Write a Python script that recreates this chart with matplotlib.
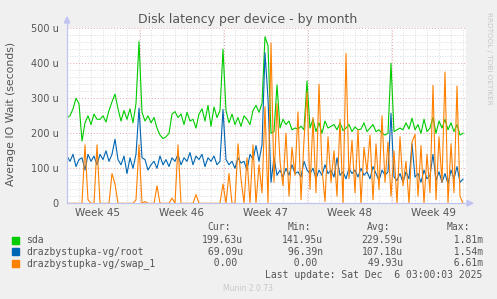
import numpy as np
import matplotlib.pyplot as plt
import matplotlib.transforms as mtransforms

# ---- data (values in microseconds, one sample every 6 hours) ----
sda = [245, 250, 270, 300, 285, 178, 230, 250, 225, 255, 240, 240, 250, 232, 265, 290,
       312, 270, 235, 265, 240, 270, 230, 285, 462, 260, 235, 250, 230, 245, 215, 195,
       185, 190, 200, 255, 262, 245, 255, 225, 260, 235, 240, 215, 255, 270, 235, 280,
       220, 275, 245, 265, 440, 265, 230, 255, 225, 245, 220, 250, 240, 225, 265, 280,
       260, 285, 476, 450, 200, 205, 338, 215, 240, 225, 235, 210, 215, 212, 220, 210,
       349, 215, 240, 205, 230, 200, 235, 215, 220, 225, 210, 230, 208, 215, 225, 205,
       218, 210, 212, 230, 205, 215, 225, 205, 210, 200, 195, 200, 400, 205, 210, 215,
       210, 230, 212, 243, 210, 225, 200, 240, 205, 215, 245, 200, 235, 215, 240, 210,
       230, 205, 225, 195, 200]
root = [135, 120, 140, 105, 125, 130, 95, 140, 120, 135, 110, 140, 125, 150, 120, 140,
        183, 125, 110, 135, 85, 130, 100, 140, 272, 130, 125, 95, 110, 120, 100, 135,
        110, 125, 105, 130, 120, 140, 110, 130, 120, 145, 110, 135, 125, 140, 105, 130,
        120, 135, 110, 120, 268, 125, 110, 120, 100, 130, 115, 120, 95, 140, 125, 165,
        120, 167, 430, 300, 60, 130, 80, 95, 75, 100, 80, 110, 85, 90, 75, 120,
        95, 85, 100, 70, 95, 80, 110, 85, 95, 75, 130, 80, 90, 70, 100, 85,
        95, 75, 100, 80, 90, 70, 105, 85, 65, 95, 80, 90, 257, 75, 65, 85,
        60, 90, 70, 170, 75, 85, 60, 95, 70, 80, 140, 65, 90, 60, 85, 55,
        95, 70, 105, 60, 69]
swap = [0, 0, 0, 0, 0, 0, 167, 10, 0, 0, 167, 0, 0, 0, 0, 85,
        55, 0, 0, 0, 0, 0, 0, 10, 167, 0, 5, 0, 0, 0, 50, 0,
        0, 0, 0, 15, 0, 167, 0, 0, 0, 0, 0, 25, 0, 0, 0, 0,
        0, 0, 0, 0, 55, 0, 85, 0, 0, 170, 70, 0, 130, 0, 167, 0,
        110, 30, 276, 0, 458, 60, 285, 120, 50, 200, 20, 160, 80, 261, 10, 180,
        318, 40, 245, 30, 340, 100, 5, 190, 60, 150, 20, 240, 0, 428, 70, 180,
        30, 210, 0, 160, 90, 195, 10, 170, 40, 250, 60, 175, 20, 150, 0, 190,
        50, 120, 0, 175, 197, 20, 165, 0, 140, 30, 337, 10, 190, 60, 375, 0,
        170, 30, 335, 20, 0]

series_names = ['sda', 'drazbystupka-vg/root', 'drazbystupka-vg/swap_1']
series_colors = ['#00CC00', '#0066B3', '#FF8000']
cur_vals = ['199.63u', ' 69.09u', '  0.00 ']
min_vals = ['141.95u', ' 96.39n', '  0.00 ']
avg_vals = ['229.59u', '107.18u', ' 49.93u']
max_vals = ['  1.81m', '  1.54m', '  6.61m']
week_labels = ['Week 45', 'Week 46', 'Week 47', 'Week 48', 'Week 49']
y_ticks = [0, 100, 200, 300, 400, 500]
y_ticklabels = ['0', '100 u', '200 u', '300 u', '400 u', '500 u']

W, H = 497, 299
bg = '#F0F0F0'
txt = '#555555'


def fx(px):
    return px / W


def fy(py):
    return 1 - py / H


fig = plt.figure(figsize=(W / 100, H / 100), dpi=100, facecolor=bg)
ax = fig.add_axes([fx(67), fy(203.3), fx(466 - 67), (203.3 - 28.3) / H])
ax.set_facecolor('white')

t = np.arange(len(sda)) * 0.25  # days
ax.set_xlim(0, 33.25)
ax.set_ylim(0, 500)

# grid
first_monday = 6.083
majors_x = [first_monday + 7 * k for k in range(4)]
ax.set_xticks(majors_x)
ax.set_xticks(np.arange(1, 34), minor=True)
ax.set_yticks(y_ticks)
ax.set_yticklabels(y_ticklabels)
ax.set_yticks(np.arange(0, 501, 20), minor=True)
ax.tick_params(axis='x', which='both', length=0, labelbottom=False)
ax.tick_params(axis='y', which='both', length=0, pad=6, labelsize=7, labelcolor=txt)
ax.grid(which='minor', color='#cfcfcf', linestyle=(0, (1, 2)), linewidth=0.6)
ax.grid(which='major', color='#e8a6a6', linestyle=(0, (1, 2)), linewidth=0.7)
ax.set_axisbelow(True)
for s in ax.spines.values():
    s.set_visible(False)

# series
for vals, c in zip([sda, root, swap], series_colors):
    ax.plot(t, vals, color=c, linewidth=0.8)

# axis lines with arrows
axis_col = '#c0c4f0'
fig.add_artist(plt.Line2D([fx(67), fx(468)], [fy(203.3), fy(203.3)], color=axis_col, lw=0.9))
fig.add_artist(plt.Line2D([fx(67), fx(67)], [fy(203.3), fy(22)], color=axis_col, lw=0.9))
fig.add_artist(plt.Polygon([[fx(467), fy(200.5)], [fx(473), fy(203.3)], [fx(467), fy(206)]],
                           closed=True, color=axis_col, transform=fig.transFigure))
fig.add_artist(plt.Polygon([[fx(64.3), fy(23)], [fx(67), fy(17)], [fx(69.7), fy(23)]],
                           closed=True, color=axis_col, transform=fig.transFigure))

# week labels
trans = mtransforms.blended_transform_factory(ax.transData, fig.transFigure)
for k, lab in enumerate(week_labels):
    ax.text(first_monday - 3.5 + 7 * k, fy(213), lab, transform=trans, ha='center',
            va='center', fontsize=7.5, color=txt)

# titles
fig.text(fx(248), fy(19.5), 'Disk latency per device - by month', ha='center', va='center',
         fontsize=9, color=txt)
fig.text(fx(11), fy(114), 'Average IO Wait (seconds)', rotation=90, ha='center',
         va='center', fontsize=7.8, color=txt)
fig.text(fx(489), fy(58), 'RRDTOOL / TOBI OETIKER', rotation=270, ha='center', va='center',
         fontsize=5.2, color='#c8c8c8')

# legend
mono = 'DejaVu Sans Mono'
fig.text(fx(231), fy(227.5), 'Cur:', ha='right', va='center', fontsize=7, family=mono, color=txt)
fig.text(fx(311), fy(227.5), 'Min:', ha='right', va='center', fontsize=7, family=mono, color=txt)
fig.text(fx(390), fy(227.5), 'Avg:', ha='right', va='center', fontsize=7, family=mono, color=txt)
fig.text(fx(470), fy(227.5), 'Max:', ha='right', va='center', fontsize=7, family=mono, color=txt)
rows_y = [240, 251.7, 263.3]
for i in range(3):
    y = rows_y[i]
    fig.add_artist(plt.Rectangle((fx(12), fy(y + 3.5)), fx(7), 7 / H, color=series_colors[i],
                                 transform=fig.transFigure))
    fig.text(fx(26.5), fy(y), series_names[i], ha='left', va='center', fontsize=7,
             family=mono, color=txt)
    for xr, vals in zip([243.3, 323.3, 402.7, 482.7], [cur_vals, min_vals, avg_vals, max_vals]):
        fig.text(fx(xr), fy(y), vals[i], ha='right', va='center', fontsize=7,
                 family=mono, color=txt)

fig.text(fx(482.7), fy(275.5), 'Last update: Sat Dec  6 03:00:03 2025', ha='right',
         va='center', fontsize=7, family=mono, color=txt)
fig.text(fx(248), fy(288.5), 'Munin 2.0.73', ha='center', va='center', fontsize=5.5,
         color='#c8c8c8')

fig.savefig('out.png', dpi=100, facecolor=bg)
